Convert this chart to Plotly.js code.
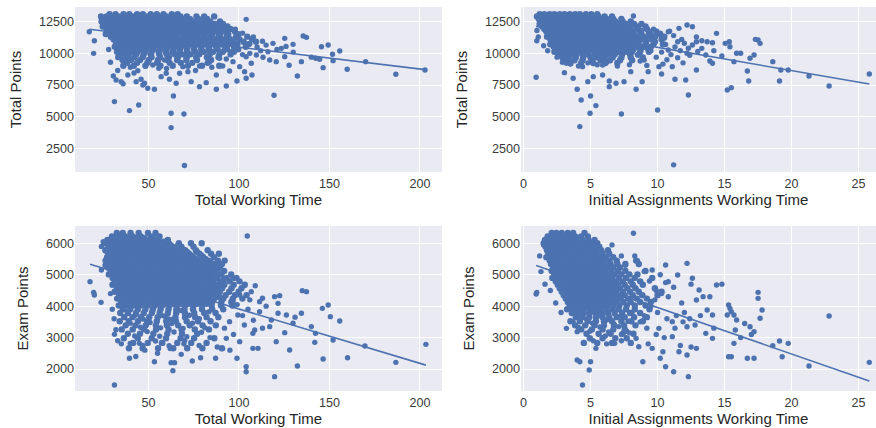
<!DOCTYPE html>
<html><head><meta charset="utf-8">
<script src="https://cdn.plot.ly/plotly-3.0.1.min.js"></script>
<style>html,body{margin:0;padding:0;background:#fff}#chart{width:876px;height:428px}</style>
</head><body><div id="chart"></div>
<script>
// ---- tick labels ----
const xTicksTotalTime = [50, 100, 150, 200];
const xTicksInitial = [0, 5, 10, 15, 20, 25];
const yTicksTotalPoints = [2500, 5000, 7500, 10000, 12500];
const yTicksExamPoints = [2000, 3000, 4000, 5000, 6000];

// ---- regression fits: [intercept, slope] ----
const fitTotalTimeTotalPoints = [12204, -17.2];
const fitInitialTotalPoints = [12300, -183];
const fitTotalTimeExamPoints = [5637, -17.28];
const fitInitialExamPoints = [5432, -147.7];

// ---- Panel 1: Total Working Time vs Total Points ----
// dense rows: [Total Points, Total Working Time ...]
const ttTotalRows = [
 [13100, 28.5,31.8,36.2,39.4,43.7,46.9,51.2,54.6,58.3,62.9,66.1],
 [12920, 23.8,26.9,30.3,33.6,37.8,41.1,44.6,48.9,52.3,55.8,59.9,63.4,67.7,71.2,76.5,80.8,86.3],
 [12720, 25.2,28.7,32.1,35.4,39.2,42.5,46.3,50.1,53.7,57.1,61.4,64.8,68.3,72.9,77.6,82.4],
 [12520, 24.1,27.4,31.3,34.7,37.9,41.8,45.4,49.2,52.6,56.3,59.7,63.5,67.1,70.8,74.6,79.3,84.1,89.5],
 [12320, 26.3,29.6,33.2,36.8,40.5,43.9,47.6,51.4,55.1,58.6,62.2,65.9,69.4,73.5,77.2,81.6,86.7,91.2],
 [12120, 24.7,28.2,31.7,35.6,38.9,42.3,46.1,49.8,53.4,57.6,60.8,64.3,68.2,71.9,75.8,79.7,83.9,88.4,93.6],
 [11920, 26.8,30.4,34.1,37.3,41.2,44.8,48.4,52.1,55.7,59.3,63.1,66.7,70.4,74.1,78.3,82.2,86.1,90.7,95.3],
 [11720, 28.1,31.9,35.2,38.8,42.6,46.2,49.7,53.3,57.2,60.6,64.4,68.1,71.7,75.5,79.4,83.6,87.8,92.4,97.8],
 [11520, 26.4,30.1,33.5,37.4,40.9,44.3,48.1,51.9,55.4,59.1,62.7,66.2,70.1,73.8,77.4,81.3,85.2,89.6,94.1,99.7],
 [11320, 29.2,32.8,36.4,39.7,43.5,47.3,50.8,54.2,58.1,61.8,65.4,69.3,72.8,76.6,80.5,84.4,88.7,93.2,98.4,104.6],
 [11120, 30.7,34.4,38.1,41.6,45.1,48.8,52.4,56.2,59.8,63.3,67.2,70.9,74.3,78.2,82.1,86.3,90.5,95.1,100.2,107.3],
 [10920, 31.9,35.3,39.1,42.9,46.4,50.3,53.9,57.4,61.2,64.9,68.5,72.3,76.1,79.8,83.6,87.9,92.3,96.9,102.5,109.4],
 [10720, 33.1,36.6,40.2,43.8,47.7,51.1,55.2,58.9,62.3,66.1,69.8,73.6,77.3,81.2,85.4,89.7,94.2,99.1,105.2],
 [10520, 31.4,35.1,38.6,42.4,46.1,49.6,53.1,56.8,60.7,64.3,67.9,71.6,75.4,79.1,83.1,87.4,92.1,97.3,103.8],
 [10320, 33.9,37.7,41.3,45.2,48.7,52.6,56.3,59.9,63.8,67.4,71.2,75.1,79.2,83.5,88.2,93.4,99.6],
 [10120, 32.6,36.4,40.7,44.1,48.1,51.8,55.6,59.4,63.2,67.1,71.4,75.9,80.6,85.7,91.1,97.2],
 [9920, 34.8,38.9,43.2,47.4,51.3,55.9,60.1,64.5,68.7,73.2,78.1,83.9,89.2,95.4],
 [9700, 33.3,37.8,42.1,46.8,51.7,56.4,61.3,66.2,71.1,76.4,82.3,88.7],
 [9480, 35.7,40.3,45.3,50.2,55.3,60.6,65.8,70.9,76.8,84.6],
 [9250, 38.2,43.7,49.4,54.8,61.7,67.9,74.2,82.7],
 [9020, 36.1,41.9,48.3,56.6,63.4,71.8,79.6,89.1]
];
const ttTotalPts = [
 [17.3,11711],[20.1,11000],[19.7,10000],[69.9,1140],[62.5,4137],[62.5,5267],[69.6,5215],[63.8,6635],
 [31.2,6188],[39.5,5478],[44.6,5925],[119.4,6688],[104,12684],[186.7,8345],[202.8,8686],[170,9344],
 [159.8,8739],[146.5,8870],[132.3,8213],[152,9423],[155.7,10186],[149.3,10659],[145.6,10527],[135.5,11369],
 [137.3,11264],[129.9,10712],[125.3,11185],[125.3,9738],[127.7,9055],[134.5,9344],[142.4,9607],[144.6,9528],
 [151.7,9923],[123.4,10396],[118.8,10790],[113.3,9686],[109.6,9870],[106.8,9213],[107.2,8292],[104,8029],
 [103.1,8555],[98.9,7819],[94.8,8608],[93,7424],[87.5,7160],[87.5,8292],[81.9,7687],[78.2,7371],
 [73.6,7766],[71.8,8555],[67.2,8424],[65.3,7634],[61.6,7950],[59.8,8424],[57,8161],[53.3,7160],
 [49.6,7240],[47.8,7634],[45.9,7950],[46.9,7503],[43.2,7766],[38.6,8292],[34.9,7766],[32.1,7897],
 [30.6,8213],[44.1,8634],[52.4,9081],[55.7,8818],[58.9,9476],[69,8950],[78.2,9002],[83.8,9344],
 [89.3,9607],[96.7,9344],[100.4,8950],[104,9738],[116,10133],[117,9476],[120.6,9344],[110,10500],
 [113,10950],[108,11300],[115,10650],[121,10300],[112,10200],[106,10000],[130,10100],[140,9700],
 [126,10550],[99,10350],[102,9900],[96,10150],[93,9550],[98,11900],[102,11600],[106,10750],
 [29,9300],[33,8650],[40,8900],[28,10300],[30,11500],[36,7600],[25,12500],[42,8450],
 [60,8800],[76,8650],[85,8900],[91,9000]
];

// ---- Panel 2: Initial Assignments Working Time vs Total Points ----
const itTotalRows = [
 [13100, 1.2,1.55,1.95,2.3,2.7,3.05,3.45,3.85,4.2,4.65,5.05,5.5],
 [12920, 1.0,1.35,1.75,2.1,2.5,2.85,3.25,3.6,4.0,4.4,4.75,5.15,5.6,6.05,6.6],
 [12720, 1.15,1.5,1.9,2.25,2.65,3.0,3.4,3.75,4.15,4.55,4.9,5.3,5.75,6.2,6.7,7.3],
 [12520, 1.3,1.65,2.05,2.45,2.8,3.2,3.55,3.95,4.35,4.7,5.1,5.5,5.9,6.35,6.85,7.4,8.0],
 [12320, 1.2,1.6,1.95,2.35,2.7,3.1,3.5,3.85,4.25,4.6,5.0,5.4,5.8,6.2,6.65,7.1,7.65,8.25,8.8],
 [12120, 1.4,1.8,2.15,2.55,2.9,3.3,3.7,4.05,4.45,4.85,5.2,5.6,6.0,6.45,6.9,7.35,7.9,8.45,9.1],
 [11920, 1.55,1.9,2.3,2.7,3.05,3.45,3.8,4.2,4.6,4.95,5.35,5.75,6.15,6.55,7.0,7.5,8.0,8.55,9.2],
 [11720, 1.7,2.05,2.45,2.8,3.2,3.6,3.95,4.35,4.75,5.1,5.5,5.9,6.3,6.7,7.15,7.6,8.15,8.7,9.35,9.9],
 [11520, 1.85,2.2,2.6,3.0,3.35,3.75,4.1,4.5,4.9,5.25,5.65,6.05,6.45,6.85,7.3,7.75,8.25,8.8,9.45,10.2],
 [11320, 1.75,2.15,2.5,2.9,3.25,3.65,4.05,4.4,4.8,5.2,5.55,5.95,6.35,6.75,7.2,7.65,8.1,8.6,9.15,9.8,10.5],
 [11120, 2.0,2.35,2.75,3.1,3.5,3.9,4.25,4.65,5.05,5.4,5.8,6.2,6.6,7.05,7.5,7.95,8.45,8.95,9.55,10.3],
 [10920, 2.1,2.5,2.85,3.25,3.65,4.0,4.4,4.8,5.15,5.55,5.95,6.35,6.75,7.2,7.65,8.1,8.6,9.15,9.8],
 [10720, 2.0,2.4,2.8,3.15,3.55,3.95,4.3,4.7,5.1,5.45,5.85,6.25,6.65,7.1,7.55,8.05,8.55,9.1,9.7,10.4],
 [10520, 2.25,2.65,3.0,3.4,3.8,4.15,4.55,4.95,5.3,5.7,6.1,6.5,6.95,7.4,7.9,8.4,8.95,9.5],
 [10320, 2.4,2.8,3.2,3.55,3.95,4.35,4.7,5.1,5.5,5.9,6.3,6.75,7.2,7.7,8.2,8.75,9.3],
 [10120, 2.3,2.75,3.15,3.6,4.0,4.45,4.85,5.3,5.7,6.15,6.6,7.1,7.6,8.1,8.7,9.35],
 [9900, 2.6,3.05,3.5,3.95,4.4,4.85,5.3,5.8,6.3,6.8,7.35,7.95,8.6],
 [9680, 2.9,3.4,3.9,4.45,5.0,5.5,6.05,6.65,7.3,8.0,8.9],
 [9460, 3.2,3.8,4.4,5.1,5.75,6.45,7.2,8.1],
 [9240, 3.5,4.3,5.2,6.1,7.0]
];
const itTotalPts = [
 [0.94,8108],[0.99,11000],[25.8,8371],[22.8,7424],[21.3,8213],[19.75,8686],[19.1,7819],[19.2,8686],
 [18.6,9344],[17.5,11054],[17.65,10790],[17.3,11106],[16.9,9607],[17.2,9870],[16.7,8608],[16.8,7819],
 [15.7,9344],[15.5,7292],[15.2,7108],[15.4,10527],[15.05,10790],[15.35,10922],[15.9,10002],[16.2,10002],
 [14.4,11580],[14.1,10843],[14.1,9213],[13.7,10922],[13.6,9870],[12.9,8686],[13.3,10396],[12.9,10922],
 [12.6,10659],[12.6,12105],[12.2,12237],[12.2,10002],[12.3,6714],[12.1,7897],[11.6,11974],[11.5,10922],
 [11.3,7950],[11.2,1191],[11.1,8950],[10.8,10265],[10.8,11711],[10.3,8371],[10.1,8950],[10.0,5530],
 [9.85,11317],[9.3,8555],[9.0,9476],[8.85,7766],[8.5,9870],[8.4,7160],[8.2,12947],[8.0,8555],
 [7.5,7766],[7.3,5215],[6.9,7634],[6.4,7371],[6.4,7819],[5.9,8292],[5.4,5872],[5.0,6635],
 [4.96,5267],[4.3,6319],[4.2,4215],[4.0,7160],[4.8,7766],[5.2,8161],[3.7,8029],[3.05,8476],
 [3.2,9213],[4.4,8950],[5.9,9081],
 [8.8,11800],[9.3,11400],[9.7,11900],[10.2,11600],[10.5,11200],[10.9,11750],[11.2,11400],[11.8,11100],
 [9.1,10600],[9.8,10900],[10.6,10700],[11.3,10500],[12.0,10800],[9.5,10200],[10.3,10100],[11.0,9900],
 [11.7,10200],[12.3,10400],[9.9,9700],[10.7,9500],[11.5,9650],[12.4,9850],[13.0,10150],[13.3,11000],
 [12.9,11300],[14.2,10200],[14.8,9800],[13.9,9400],[11.9,9250],[10.4,9150],[9.2,9050],[8.7,9400],
 [7.9,9100],[7.0,9000],[6.2,9300],[5.5,9100],[4.8,9250],[4.1,9000],[3.5,9150],[2.9,9300],
 [2.5,9700],[1.8,10200],[1.5,10600],[1.1,11300],[1.0,11800],[1.2,12900]
];

// ---- Panel 3: Total Working Time vs Exam Points ----
const ttExamRows = [
 [6330, 32.5,35.8,40.1,44.6,49.7,53.9],
 [6220, 29.8,33.4,37.2,41.3,45.8,51.2,56.1],
 [6110, 27.3,31.1,34.6,38.4,42.2,46.9,50.6,55.4,60.7],
 [6000, 25.6,28.9,32.7,36.1,39.8,43.6,47.3,51.8,56.3,61.2,66.8,73.5,79.4],
 [5890, 27.9,31.6,35.3,38.9,42.7,46.4,50.1,54.2,58.7,63.4,68.2,74.9],
 [5780, 26.2,29.7,33.8,37.4,41.1,44.9,48.6,52.4,56.8,61.1,65.6,70.3,76.2,82.7],
 [5670, 28.4,32.2,35.9,39.6,43.4,47.1,50.9,54.7,58.9,63.2,67.7,72.4,78.1,84.6,88.9],
 [5560, 27.1,30.8,34.5,38.1,41.9,45.7,49.4,53.3,57.1,61.4,65.8,70.1,74.7,80.3,86.2],
 [5450, 26.3,29.4,33.2,36.8,40.6,44.2,48.1,51.9,55.6,59.8,64.1,68.4,72.9,77.6,83.1,88.4,92.1],
 [5340, 28.7,32.4,35.8,39.7,43.3,47.2,50.8,54.6,58.4,62.6,66.9,71.2,75.8,80.9,86.1,90.6],
 [5230, 27.6,31.2,34.9,38.5,42.4,46.1,49.9,53.7,57.5,61.7,65.9,70.4,74.6,79.1,84.3,89.5],
 [5120, 29.3,32.9,36.6,40.4,44.1,47.9,51.6,55.4,59.3,63.5,67.8,72.1,76.7,81.6,86.8,91.8],
 [5010, 28.1,31.8,35.6,39.2,42.9,46.7,50.5,54.3,58.2,62.4,66.6,70.9,75.4,80.2,85.1,90.3,95.7],
 [4900, 30.2,33.8,37.5,41.3,45.1,48.8,52.6,56.4,60.4,64.5,68.7,73.2,77.9,82.8,87.9,93.2,98.6],
 [4790, 31.4,35.1,38.8,42.6,46.3,50.2,54,57.9,61.8,65.9,70.2,74.6,79.4,84.3,89.4,94.8,100.3],
 [4680, 30.1,33.6,37.4,41.1,44.9,48.6,52.4,56.2,60.1,64.2,68.3,72.7,77.2,81.9,86.8,91.9,97.1,103.2],
 [4570, 32.6,36.3,40.2,43.8,47.6,51.4,55.3,59.1,63.2,67.4,71.6,76.1,80.8,85.6,90.7,95.9,101.4],
 [4460, 31.3,35.2,38.9,42.7,46.5,50.3,54.1,58.1,62.1,66.2,70.5,74.9,79.6,84.4,89.4,94.6,99.8],
 [4350, 33.8,37.6,41.4,45.3,49.1,52.9,56.8,60.7,64.8,68.9,73.3,77.8,82.6,87.5,92.6,97.8,104.2],
 [4240, 32.7,36.5,40.3,44.2,48.1,51.9,55.8,59.7,63.8,67.9,72.2,76.7,81.4,86.3,91.4,96.6,101.9],
 [4130, 34.9,38.8,42.6,46.6,50.5,54.4,58.4,62.4,66.6,70.9,75.4,80.2,85.2,90.3,95.8],
 [4020, 33.6,37.4,41.5,45.4,49.4,53.5,57.6,61.6,65.8,70.2,74.8,79.7,84.9,90.1,96.4],
 [3900, 35.8,39.9,44.1,48.3,52.4,56.7,61.1,65.4,69.9,74.6,79.6,85.2,91.3],
 [3780, 34.4,38.7,43.1,47.4,51.8,56.2,60.7,65.3,70.1,75.3,80.8,87.1],
 [3650, 36.6,41.2,45.8,50.4,55.1,59.9,64.9,70.2,75.8,82.1,88.6],
 [3520, 34.1,39.1,44.2,49.3,54.6,59.8,65.2,71.1,77.4,84.3],
 [3390, 37.4,42.8,48.5,54.1,60.2,66.4,72.8,79.9,87.2],
 [3260, 35.2,41.3,47.6,54.2,61.1,68.3,75.6,83.4],
 [3120, 38.6,45.3,52.7,60.4,68.5,76.9],
 [2980, 36.4,44.1,51.8,59.7,67.8,75.2,86.4],
 [2830, 41.5,49.6,57.4,65.9,73.6,82.1],
 [2660, 39.2,46.8,55.3,63.7,71.4,79.8,90.5]
];
// in-between rows of the densest part of panel 3
const ttExamCoreRows = [
 [6165, 31.5,35.4,39.2,43.3,47.6,52.7],
 [6055, 30.1,33.8,37.6,41.2,45.3,49.2,53.6,58.5],
 [5945, 29.6,33.4,37.2,41.1,44.9,48.7,52.9,57.4,62.1,66.5],
 [5835, 28.1,31.9,35.7,39.3,43.1,46.8,50.6,54.6,59.1,63.6,68.4],
 [5725, 27.4,31.0,34.7,38.5,42.2,46.0,49.8,53.6,57.8,62.1,66.7,71.3,76.8],
 [5615, 29.2,32.9,36.7,40.4,44.2,48.0,51.8,55.7,60.0,64.4,68.9,73.6,79.2],
 [5505, 28.3,32.1,35.6,39.4,43.2,46.9,50.7,54.4,58.5,62.7,66.9,71.3,76.1,81.4],
 [5395, 30.9,34.4,38.2,41.9,45.7,49.3,53.2,56.9,61.1,65.3,69.5,74.2,79.1,84.2],
 [5285, 29.9,33.6,37.3,41.0,44.8,48.6,52.3,56.1,60.1,64.2,68.5,72.8,77.4,82.6,87.6],
 [5175, 28.8,32.4,36.1,39.8,43.5,47.3,51.1,54.9,58.8,62.9,67.1,71.4,75.9,80.6,85.7],
 [5065, 30.6,34.3,37.9,41.7,45.5,49.3,53.1,56.9,60.8,65.0,69.2,73.6,78.3,83.1,88.3],
 [4955, 31.9,35.5,39.3,43.1,46.9,50.7,54.5,58.4,62.4,66.6,70.9,75.5,80.3,85.3],
 [4845, 32.8,36.6,40.3,44.2,47.9,51.8,55.6,59.5,63.5,67.6,71.9,76.4,81.2,86.1,91.4],
 [4735, 32.1,35.8,39.5,43.3,47.2,50.9,54.8,58.6,62.6,66.7,71.0,75.4,80.1,84.9,89.9],
 [4625, 34.4,38.2,42.0,45.8,49.6,53.4,57.3,61.2,65.2,69.4,73.8,78.4,83.2,88.1],
 [4515, 33.4,37.3,41.1,44.9,48.7,52.6,56.5,60.4,64.5,68.7,73.0,77.6,82.3,87.2],
 [4405, 35.6,39.4,43.3,47.2,50.9,54.8,58.8,62.8,66.8,71.0,75.4,80.1,84.9],
 [4295, 34.8,38.7,42.5,46.4,50.2,54.1,58.0,62.0,66.1,70.3,74.7,79.3,84.1,89.0],
 [4185, 36.8,40.6,44.5,48.3,52.3,56.2,60.2,64.3,68.5,72.9,77.6,82.6],
 [4075, 35.9,39.8,43.7,47.6,51.6,55.6,59.6,63.7,67.9,72.3,77.1,82.2]
];
const ttExamPts = [
 [17.7,4780],[19.7,4440],[20.1,4355],[23.8,4122],[31.2,1490],[31.2,3103],[39.5,2340],[39.9,2817],
 [45,2817],[53.3,2233],[57.9,2817],[62.5,2202],[63.5,1947],[64.4,2202],[68.1,2467],[74.2,2255],
 [78.8,2360],[87.1,2340],[98.9,2340],[104,2074],[104,1915],[104.6,6233],[119.7,1756],[128,2605],
 [132.3,2096],[135,4493],[137.3,4461],[141.9,2849],[146.5,2318],[146.1,3931],[149.3,4037],[150.5,3666],
 [152,2923],[155.7,3528],[160,2360],[169.6,2732],[186.7,2212],[203.3,2785],[142.3,3135],[134.5,3772],
 [129.9,3454],[125.3,3157],[120.6,2870],[126.2,3719],[121.6,3772],[121.6,4090],[119.7,4302],[122.5,4334],
 [117.9,3560],[111.4,4143],[111.4,3825],[108.7,3241],[107.7,3135],[110.5,2658],[107.7,2658],[117,3348],
 [106.8,4461],[103.1,4674],[100.4,4355],[99.4,3719],[96.7,4886],[96.7,4143],[94.8,3507],[93,2976],
 [100.4,2870],[105,3900],[108,3550],[113,3300],[103,3400],[97,3100],[92,3300],[88,2700],
 [84,3000],[91,2650],[102,3700],[106,4200],[99,4050],[115,4000],[109,4650],[113,4250],
 [24,5900],[25,6050],[26,5300],[24,5150],[29,4400],[30,3900],[31,3600],[32,3250],
 [33,2900],[48,2600],[55,2500],[62,2650],[70,2900],[78,2750],[95,2600],[43,2400],
 [35,2800],[140,3350],[131,3650],
 [38.2,3840],[42.6,3710],[47.0,3590],[52.3,3830],[57.8,3700],[62.4,3580],[67.9,3860],[72.6,3710],
 [78.1,3600],[83.4,3820],[39.9,3460],[45.6,3330],[50.9,3480],[56.7,3310],[62.9,3450],[69.1,3290],
 [74.3,3460],[81.2,3310],[42.4,3050],[49.3,3190],[56.2,3040],[64.1,3180],[71.2,3030],[79.3,3170],
 [46.8,2750],[53.9,2890],[61.4,2740],[69.6,2800]
];

// ---- Panel 4: Initial Assignments Working Time vs Exam Points ----
const itExamRows = [
 [6330, 2.1,2.45,2.85,3.3,3.7,4.55],
 [6220, 1.8,2.2,2.6,3.0,3.4,3.85,4.3,4.8],
 [6110, 1.6,1.95,2.35,2.75,3.15,3.55,3.95,4.4,4.85,5.3],
 [6000, 1.5,1.85,2.25,2.65,3.05,3.45,3.85,4.25,4.65,5.05,5.5],
 [5890, 1.65,2.05,2.45,2.85,3.25,3.6,4.0,4.4,4.8,5.2,5.65],
 [5780, 1.75,2.15,2.55,2.95,3.35,3.75,4.15,4.55,4.95,5.35,5.8,6.3],
 [5670, 1.85,2.25,2.65,3.05,3.45,3.85,4.25,4.65,5.05,5.45,5.9,6.4],
 [5560, 1.7,2.1,2.5,2.9,3.3,3.7,4.1,4.5,4.9,5.3,5.7,6.15,6.7],
 [5450, 1.95,2.35,2.75,3.15,3.55,3.95,4.35,4.75,5.15,5.55,5.95,6.4,6.95,8.4],
 [5340, 2.05,2.45,2.85,3.25,3.65,4.05,4.45,4.85,5.25,5.65,6.05,6.5,7.0,7.6,8.6],
 [5230, 2.2,2.6,3.0,3.4,3.8,4.2,4.6,5.0,5.4,5.8,6.25,6.7,7.2],
 [5120, 2.1,2.5,2.9,3.3,3.7,4.1,4.5,4.9,5.3,5.7,6.1,6.55,7.05,7.6,9.1],
 [5010, 2.3,2.7,3.1,3.5,3.9,4.3,4.7,5.1,5.5,5.9,6.35,6.8,7.3,7.9,8.5],
 [4900, 2.15,2.55,2.95,3.35,3.75,4.15,4.55,4.95,5.35,5.75,6.15,6.6,7.1,7.65,8.3,9.6],
 [4790, 2.4,2.8,3.2,3.6,4.0,4.4,4.8,5.2,5.6,6.0,6.45,6.9,7.4,8.0,8.7],
 [4680, 2.55,2.95,3.35,3.75,4.15,4.55,4.95,5.35,5.75,6.15,6.6,7.05,7.55,8.15,8.9],
 [4570, 2.7,3.1,3.5,3.9,4.3,4.7,5.1,5.5,5.9,6.3,6.75,7.2,7.75,8.35,9.8],
 [4460, 2.85,3.25,3.65,4.05,4.45,4.85,5.25,5.65,6.05,6.45,6.9,7.4,7.95,8.6,10.3],
 [4350, 3.0,3.4,3.8,4.2,4.6,5.0,5.4,5.8,6.2,6.6,7.05,7.55,8.15,8.85,10.0],
 [4240, 3.15,3.55,3.95,4.35,4.75,5.15,5.55,5.95,6.35,6.8,7.25,7.8,8.45,9.2],
 [4130, 3.3,3.7,4.1,4.5,4.9,5.3,5.7,6.1,6.5,6.95,7.45,8.0,8.7,9.5],
 [4020, 3.45,3.85,4.25,4.65,5.05,5.45,5.85,6.25,6.7,7.15,7.7,8.3,9.1],
 [3900, 3.25,3.7,4.1,4.5,4.95,5.35,5.75,6.2,6.65,7.1,7.65,8.3,9.4],
 [3780, 3.6,4.05,4.5,4.95,5.4,5.85,6.3,6.8,7.35,7.95,8.7],
 [3650, 3.9,4.4,4.9,5.4,5.9,6.4,6.95,7.55,8.25,9.2],
 [3520, 3.5,4.2,4.8,5.4,6.0,6.6,7.3,8.05,8.9],
 [3390, 3.85,4.6,5.3,6.0,6.75,7.5,8.35],
 [3260, 4.3,5.1,5.9,6.7,7.55],
 [3120, 4.7,5.6,6.5,7.4,8.2],
 [2980, 4.95,5.9,6.85,7.7],
 [2830, 4.5,5.5,6.6,8.0]
];
const itExamPts = [
 [0.94,4387],[0.99,4440],[25.8,2212],[22.8,3687],[21.3,2096],[19.75,2817],[19.1,2891],[19.3,2392],
 [18.6,2743],[17.8,3878],[17.5,4440],[17.5,4249],[17.65,3613],[17.2,3188],[17.2,2340],[16.7,2340],
 [16.9,3347],[15.5,2392],[15.3,2392],[15.7,2817],[15.8,3241],[15.3,4037],[15.4,3931],[15.5,3825],
 [15.7,3719],[15.2,3719],[15.9,3560],[14.4,4674],[14.1,3719],[14.1,2976],[13.7,3878],[13.6,3135],
 [13.4,4302],[12.9,4196],[13.1,4514],[12.9,2658],[12.6,4886],[12.2,5363],[12.2,3347],[12.3,1756],
 [12.2,2445],[11.5,4992],[11.6,2551],[11.2,1915],[11.1,3029],[11.1,3507],[10.6,5310],[10.8,4780],
 [10.6,2074],[10.2,2340],[10.1,3294],[9.6,2658],[9.6,5151],[8.2,6318],[8.9,2233],[8.6,2711],
 [8.4,2976],[6.8,2817],[5.4,2658],[5.0,2233],[4.9,1968],[4.4,1490],[4.2,2233],[4.0,2287],
 [4.0,3188],[3.2,3294],
 [8.5,5450],[8.3,5600],[9.0,5100],[9.4,4800],[9.9,4500],[10.3,4400],[10.8,4300],[11.2,4600],
 [11.8,4100],[12.0,3800],[11.4,3700],[10.7,3600],[10.0,3800],[9.5,4000],[9.0,3700],[8.7,3500],
 [9.2,3300],[9.9,3100],[10.5,3000],[11.3,3300],[11.9,3500],[12.4,3600],[12.8,3400],[13.2,3700],
 [12.5,4700],[10.2,5000],[10.6,4750],[9.8,4200],[8.9,4350],[8.1,3800],[7.7,3200],[7.3,2900],
 [6.2,2800],[5.9,3000],[3.7,3500],[2.8,3800],[2.4,4100],[2.0,4500],[1.6,4700],[1.3,5100],
 [1.2,5600],[1.5,5950],[13.9,4300],[14.2,3300],[16.2,3000],[16.5,3450],[17.0,3100],[14.8,4700],
 [12.5,2700],[11.7,2750],[10.4,2550],[9.3,2800],[6.6,5950],[7.3,5600],[7.6,5300],
 [4.25,3700],[4.7,3580],[5.15,3460],[5.65,3700],[6.2,3560],[6.75,3430],[7.25,3690],[7.8,3520],
 [4.1,3320],[4.95,3200],[5.7,3340],[6.35,3180],[7.1,3350],[7.9,3150],[5.2,2900],[6.1,3050],[7.3,3100]
];

// ---- build traces ----
const BLUE = '#4C72B0';
function rowsToXY(rows) {
  const x = [], y = [];
  rows.forEach(r => { for (let i = 1; i < r.length; i++) { x.push(r[i]); y.push(r[0]); } });
  return {x, y};
}
function pairsToXY(pts) {
  return {x: pts.map(p => p[0]), y: pts.map(p => p[1])};
}
function panel(rows, pts, fit, xa, ya) {
  const core = rowsToXY(rows), extra = pairsToXY(pts);
  const allX = core.x.concat(extra.x);
  const lx = [Math.min(...allX), Math.max(...allX)];
  const ly = lx.map(v => fit[0] + fit[1] * v);
  return [
    {type: 'scatter', mode: 'markers', x: core.x, y: core.y, xaxis: xa, yaxis: ya,
     marker: {color: BLUE, size: 6.4, opacity: 1, line: {width: 0}}, hoverinfo: 'skip'},
    {type: 'scatter', mode: 'markers', x: extra.x, y: extra.y, xaxis: xa, yaxis: ya,
     marker: {color: BLUE, size: 5.4, opacity: 1, line: {width: 0}}, hoverinfo: 'skip'},
    {type: 'scatter', mode: 'lines', x: lx, y: ly, xaxis: xa, yaxis: ya,
     line: {color: BLUE, width: 1.6}, hoverinfo: 'skip'}
  ];
}
const data = [].concat(
  panel(ttTotalRows, ttTotalPts, fitTotalTimeTotalPoints, 'x', 'y'),
  panel(itTotalRows, itTotalPts, fitInitialTotalPoints, 'x2', 'y2'),
  panel(ttExamRows.concat(ttExamCoreRows), ttExamPts, fitTotalTimeExamPoints, 'x3', 'y3'),
  panel(itExamRows, itExamPts, fitInitialExamPoints, 'x4', 'y4')
);

const W = 876, H = 428;
const FONT = 'Liberation Sans, Arial, sans-serif';
function xAx(dom, range, ticks, title, anchor) {
  return {domain: dom, range: range, tickmode: 'array', tickvals: ticks, anchor: anchor,
    showgrid: true, gridcolor: '#ffffff', gridwidth: 1, zeroline: false, showline: false,
    ticks: '', automargin: false, fixedrange: true, ticklabelstandoff: 2,
    tickfont: {family: FONT, size: 12.6, color: '#3a3a3a'},
    title: {text: title, font: {family: FONT, size: 15, color: '#262626'}, standoff: 4}};
}
function yAx(dom, range, ticks, title, anchor) {
  return {domain: dom, range: range, tickmode: 'array', tickvals: ticks, anchor: anchor,
    tickformat: 'd',
    showgrid: true, gridcolor: '#ffffff', gridwidth: 1, zeroline: false, showline: false,
    ticks: '', automargin: false, fixedrange: true,
    tickfont: {family: FONT, size: 12.6, color: '#3a3a3a'},
    title: {text: title, font: {family: FONT, size: 15, color: '#262626'}, standoff: 13}};
}
const dxL = [75 / W, 442 / W], dxR = [521 / W, 1];
const dyT = [1 - 172 / H, 1 - 7 / H], dyB = [1 - 391 / H, 1 - 226 / H];
const layout = {
  width: W, height: H, margin: {l: 0, r: 0, t: 0, b: 0},
  paper_bgcolor: '#ffffff', plot_bgcolor: '#EAEAF2', showlegend: false,
  font: {family: FONT},
  xaxis: xAx(dxL, [9.4, 212.2], xTicksTotalTime, 'Total Working Time', 'y'),
  yaxis: yAx(dyT, [628, 13661], yTicksTotalPoints, 'Total Points', 'x'),
  xaxis2: xAx(dxR, [-0.19, 26.3], xTicksInitial, 'Initial Assignments Working Time', 'y2'),
  yaxis2: yAx(dyT, [628, 13661], yTicksTotalPoints, 'Total Points', 'x2'),
  xaxis3: xAx(dxL, [9.4, 212.2], xTicksTotalTime, 'Total Working Time', 'y3'),
  yaxis3: yAx(dyB, [1300, 6551], yTicksExamPoints, 'Exam Points', 'x3'),
  xaxis4: xAx(dxR, [-0.19, 26.3], xTicksInitial, 'Initial Assignments Working Time', 'y4'),
  yaxis4: yAx(dyB, [1300, 6551], yTicksExamPoints, 'Exam Points', 'x4')
};
Plotly.newPlot('chart', data, layout, {staticPlot: true, displayModeBar: false});
</script></body></html>
